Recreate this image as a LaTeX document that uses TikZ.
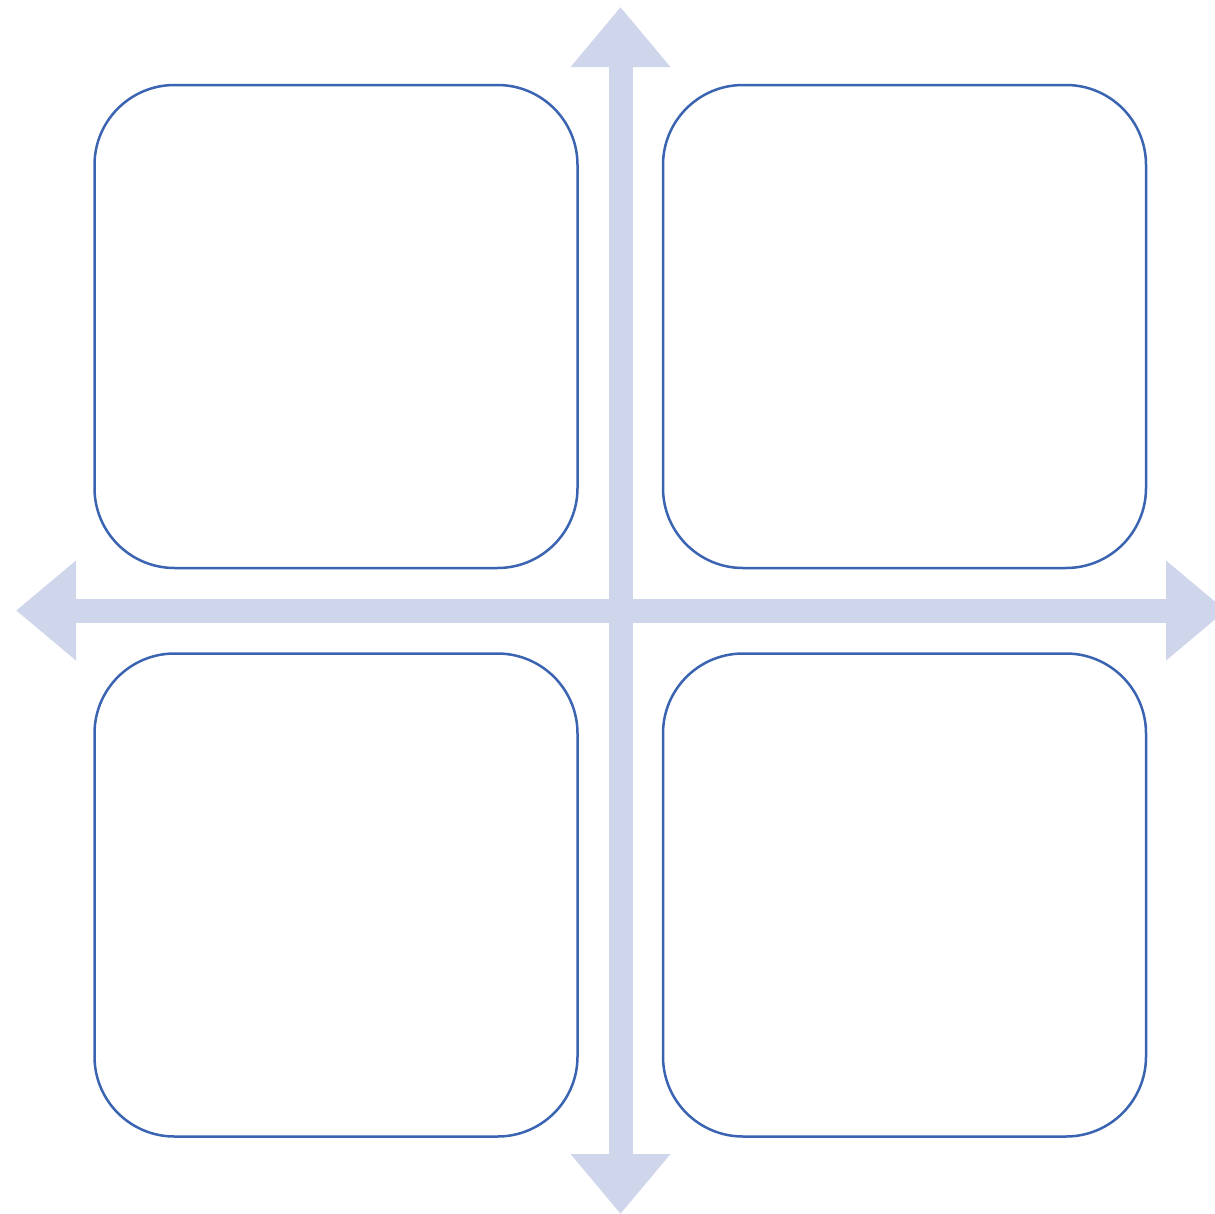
\documentclass[tikz,border=0pt]{standalone}
\usepackage{xcolor}
\usepackage{tikz}
\usetikzlibrary{positioning, arrows.meta}
\definecolor{axisfill}{RGB}{207,213,235}
\definecolor{quadframe}{RGB}{58,100,178}

\begin{document}
\begin{tikzpicture}[
        x=1pt, y=-1pt,
        node distance=83pt and 83pt,
        quad/.style={draw=quadframe, rectangle, rounded corners=80pt, minimum width=483pt, minimum height=483pt, line width=2.5pt, fill=white},
        axis/.style={{Triangle[length=60pt, width=96pt]}-{Triangle[length=60pt, width=96pt]}, line width=24pt, draw=axisfill, fill=axisfill}
    ]
    \useasboundingbox (0,0) rectangle (1215,1213);
    \clip (0,0) rectangle (1215,1213);

    % axes
    \coordinate (top) at (620.5,7);
    \coordinate (bottom) at (620.5,1214);
    \coordinate (left) at (16,610.5);
    \coordinate (right) at (1226,610.5);

    \draw[axis] (bottom) -- (top);
    \draw[axis] (left) -- (right);

    % quadrants
    \node[quad] (tl) at (336,326.5) {};
    \node[quad] (tr) [right=of tl] {};
    \node[quad] (bl) [below=of tl] {};
    \node[quad] (br) [right=of bl] {};

\end{tikzpicture}
\end{document}
